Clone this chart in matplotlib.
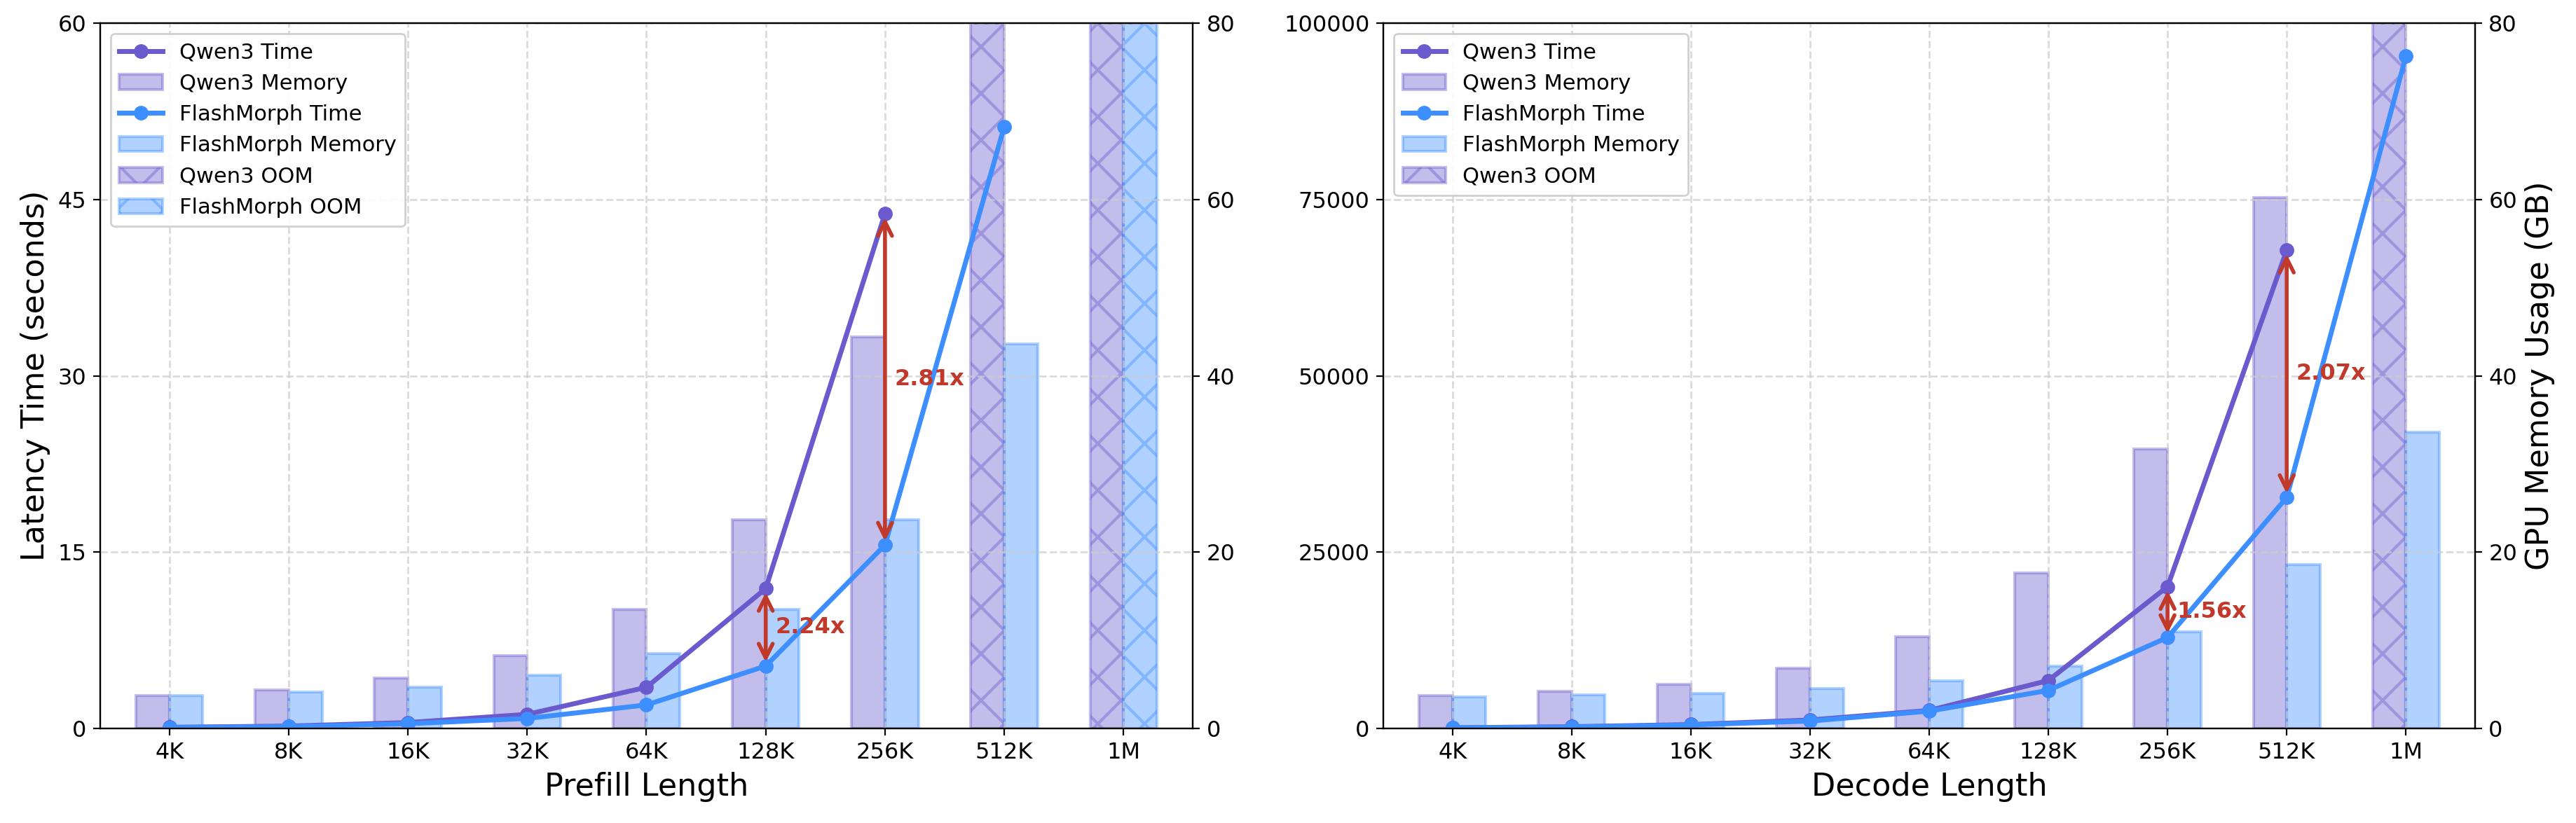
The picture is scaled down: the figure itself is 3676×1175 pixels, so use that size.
import numpy as np
import matplotlib.pyplot as plt

# context lengths on the x axis
lengths = ['4K', '8K', '16K', '32K', '64K', '128K', '256K', '512K', '1M']

# prefill: latency (s) and memory (GB), None = OOM
prefill_qwen_time = [0.1, 0.2, 0.5, 1.2, 3.5, 11.9, 43.8, None, None]
prefill_fm_time = [0.08, 0.15, 0.4, 0.85, 2.0, 5.31, 15.6, 51.2, None]
prefill_qwen_mem = [3.7, 4.4, 5.7, 8.3, 13.5, 23.7, 44.4, None, None]
prefill_fm_mem = [3.7, 4.1, 4.7, 6.0, 8.5, 13.5, 23.7, 43.6, None]
prefill_speedup_at = ['128K', '256K']
prefill_speedup_txt = ['2.24x', '2.81x']

# decode: latency and memory (GB), None = OOM
decode_qwen_time = [100, 250, 550, 1200, 2550, 6800, 20100, 67800, None]
decode_fm_time = [80, 200, 500, 1050, 2450, 5400, 12900, 32750, 95300]
decode_qwen_mem = [3.7, 4.2, 5.0, 6.8, 10.4, 17.6, 31.7, 60.2, None]
decode_fm_mem = [3.6, 3.8, 4.0, 4.5, 5.4, 7.1, 11.0, 18.6, 33.6]
decode_speedup_at = ['256K', '512K']
decode_speedup_txt = ['1.56x', '2.07x']

QWEN = '#6a5acd'
FM = '#3d8eff'
RED = '#c0392b'
W = 0.28
MEM_MAX = 80

plt.rcParams['hatch.linewidth'] = 1.5


def to_arr(vals):
    return np.array([np.nan if v is None else v for v in vals], dtype=float)


def panel(ax, qt, ft, qm, fm, tmax, xlabel, sp_at, sp_txt):
    x = np.arange(len(lengths))
    ax2 = ax.twinx()

    # memory bars (right axis), OOM bars go up to the top with hatch
    for mem, off, col, name in [(qm, -W / 2, QWEN, 'Qwen3'), (fm, W / 2, FM, 'FlashMorph')]:
        ok = [i for i, v in enumerate(mem) if v is not None]
        oom = [i for i, v in enumerate(mem) if v is None]
        ax2.bar(x[ok] + off, [mem[i] for i in ok], W, color=col, alpha=0.4,
                edgecolor=col, linewidth=1.5, label=f'{name} Memory')
        if oom:
            ax2.bar(x[oom] + off, [MEM_MAX] * len(oom), W, color=col, alpha=0.4,
                    edgecolor=col, linewidth=1.5, hatch='x', label=f'{name} OOM')
    ax2.set_ylim(0, MEM_MAX)
    ax2.set_yticks(np.linspace(0, MEM_MAX, 5))
    ax2.tick_params(axis='y', labelsize=11.5)

    # latency lines on top
    ax.set_zorder(ax2.get_zorder() + 1)
    ax.patch.set_visible(False)
    ax.plot(x, to_arr(qt), '-o', color=QWEN, lw=2.5, ms=6.5, label='Qwen3 Time')
    ax.plot(x, to_arr(ft), '-o', color=FM, lw=2.5, ms=6.5, label='FlashMorph Time')

    # speedup arrows
    for lab, txt in zip(sp_at, sp_txt):
        i = lengths.index(lab)
        ax.annotate('', xy=(i, qt[i]), xytext=(i, ft[i]),
                    arrowprops=dict(arrowstyle='<->', color=RED, lw=2, mutation_scale=18))
        ax.text(i + 0.08, (qt[i] + ft[i]) / 2, txt, color=RED, fontsize=11.5,
                fontweight='bold', ha='left', va='center')

    ax.set_ylim(0, tmax)
    ax.set_yticks(np.linspace(0, tmax, 5))
    ax.set_xticks(x)
    ax.set_xticklabels(lengths)
    ax.set_xlim(-0.58, len(lengths) - 0.42)
    ax.tick_params(labelsize=11.5)
    ax.set_xlabel(xlabel, fontsize=16)
    ax.grid(True, linestyle='--', color='#cccccc', alpha=0.7, lw=1)

    h1, l1 = ax.get_legend_handles_labels()
    h2, l2 = ax2.get_legend_handles_labels()
    hd = dict(zip(l1 + l2, h1 + h2))
    order = ['Qwen3 Time', 'Qwen3 Memory', 'FlashMorph Time', 'FlashMorph Memory',
             'Qwen3 OOM', 'FlashMorph OOM']
    order = [o for o in order if o in hd]
    ax.legend([hd[o] for o in order], order, loc='upper left', fontsize=11,
              framealpha=0.9)
    return ax2


fig = plt.figure(figsize=(18.38, 5.875), dpi=200)
ax_l = fig.add_axes([0.0389, 0.1149, 0.4241, 0.857])
ax_r = fig.add_axes([0.5370, 0.1149, 0.4238, 0.857])

panel(ax_l, prefill_qwen_time, prefill_fm_time, prefill_qwen_mem, prefill_fm_mem,
      60, 'Prefill Length', prefill_speedup_at, prefill_speedup_txt)
ax_l.set_ylabel('Latency Time (seconds)', fontsize=16)

ax2_r = panel(ax_r, decode_qwen_time, decode_fm_time, decode_qwen_mem, decode_fm_mem,
              100000, 'Decode Length', decode_speedup_at, decode_speedup_txt)
ax2_r.set_ylabel('GPU Memory Usage (GB)', fontsize=16)

fig.savefig('out.png', dpi=200)
